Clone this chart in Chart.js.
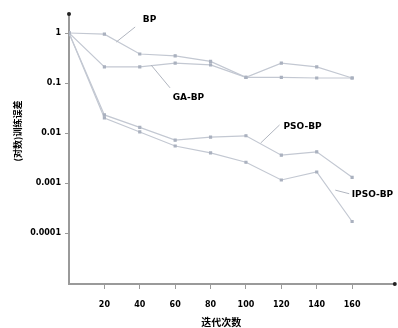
<!DOCTYPE html>
<html>
<head>
<meta charset="utf-8">
<script src="https://cdn.jsdelivr.net/npm/chart.js@4/dist/chart.umd.min.js"></script>
<style>
html,body{margin:0;padding:0;background:#fff;}
canvas{display:block;}
</style>
</head>
<body>
<canvas id="c" width="398" height="328"></canvas>
<script>
// ---- data ----
const iterations = [0, 20, 40, 60, 80, 100, 120, 140, 160];
const bp     = [1, 0.95, 0.38, 0.35, 0.27, 0.13, 0.25, 0.21, 0.126];
const gaBp   = [1, 0.21, 0.21, 0.25, 0.23, 0.13, 0.13, 0.126, 0.126];
const psoBp  = [1, 0.023, 0.013, 0.0072, 0.0083, 0.0088, 0.0036, 0.0042, 0.0013];
const ipsoBp = [1, 0.02, 0.0105, 0.0055, 0.004, 0.0026, 0.00115, 0.00166, 0.00017];
const xTicks = [20, 40, 60, 80, 100, 120, 140, 160];
const yTicks = [0.0001, 0.001, 0.01, 0.1, 1];
const yTickLabels = ['0.0001', '0.001', '0.01', '0.1', '1'];
const seriesNames = ['BP', 'GA-BP', 'PSO-BP', 'IPSO-BP'];
// label anchors in data units: [lineX, lineY, leaderEndX, leaderEndY, textX, textY]
const labelAnchors = [
  [26.7, 0.66, 37.4, 1.32, 45.5, 1.82],
  [46.4, 0.229, 57.1, 0.080, 67.5, 0.050],
  [108.3, 0.0063, 119, 0.0145, 132, 0.0132],
  [150.5, 0.00072, 158.4, 0.00061, 171.5, 0.00058]
];
const xTitle = '迭代次数';
const yTitle = '(对数)训练误差';

const lineColor = '#c3c8d2';
const pointColor = '#aab1bf';
const axisColor = '#9a9a9a';
const fontFam = '"DejaVu Sans", sans-serif';

function mk(name, vals) {
  return {
    label: name,
    data: iterations.map((x, i) => ({x: x, y: vals[i]})),
    borderColor: lineColor,
    backgroundColor: pointColor,
    pointBackgroundColor: pointColor,
    pointBorderColor: pointColor,
    borderWidth: 1.2,
    pointRadius: 1.4,
    pointStyle: 'rect',
    tension: 0
  };
}

const deco = {
  id: 'deco',
  afterDraw(chart) {
    const ctx = chart.ctx;
    const a = chart.chartArea;
    const xs = chart.scales.x, ys = chart.scales.y;
    ctx.save();
    // axis end dots
    ctx.fillStyle = '#222';
    ctx.beginPath(); ctx.arc(a.left, a.top, 2, 0, Math.PI * 2); ctx.fill();
    ctx.beginPath(); ctx.arc(a.right + 2, a.bottom, 2, 0, Math.PI * 2); ctx.fill();
    // series labels with leaders
    ctx.strokeStyle = '#b0b5bf';
    ctx.lineWidth = 1;
    ctx.fillStyle = '#000';
    ctx.font = 'bold 9px ' + fontFam;
    ctx.textBaseline = 'middle';
    labelAnchors.forEach((l, i) => {
      const x1 = xs.getPixelForValue(l[0]), y1 = ys.getPixelForValue(l[1]);
      const x2 = xs.getPixelForValue(l[2]), y2 = ys.getPixelForValue(l[3]);
      ctx.beginPath(); ctx.moveTo(x1, y1); ctx.lineTo(x2, y2); ctx.stroke();
      ctx.textAlign = 'center';
      ctx.fillText(seriesNames[i], xs.getPixelForValue(l[4]), ys.getPixelForValue(l[5]));
    });
    // axis titles
    ctx.font = 'bold 10px "Noto Sans CJK SC", sans-serif';
    ctx.textAlign = 'center';
    ctx.fillText(xTitle, a.left + (a.right - a.left) * 0.47, chart.height - 6);
    ctx.translate(18, (a.top + a.bottom) / 2 - 18);
    ctx.rotate(-Math.PI / 2);
    ctx.font = 'bold 9px "Noto Sans CJK SC", sans-serif';
    ctx.fillText(yTitle, 0, 0);
    ctx.restore();
  }
};

new Chart(document.getElementById('c'), {
  type: 'line',
  data: {
    datasets: [mk(seriesNames[0], bp), mk(seriesNames[1], gaBp), mk(seriesNames[2], psoBp), mk(seriesNames[3], ipsoBp)]
  },
  options: {
    responsive: false,
    devicePixelRatio: 1,
    animation: false,
    layout: {padding: {top: 14, right: 3, left: 0, bottom: 0}},
    plugins: {legend: {display: false}, tooltip: {enabled: false}},
    scales: {
      x: {
        type: 'linear',
        min: 0,
        max: 183,
        afterFit(s) { s.height = 44; },
        afterBuildTicks(s) { s.ticks = xTicks.map(v => ({value: v})); },
        border: {display: true, color: axisColor, width: 2},
        grid: {drawOnChartArea: false, drawTicks: true, tickLength: 5, color: axisColor},
        ticks: {autoSkip: false, maxRotation: 0, padding: 11, color: '#000',
          font: {family: fontFam, size: 8, weight: 'bold'}}
      },
      y: {
        type: 'logarithmic',
        min: 9.55e-6,
        max: 2.4,
        afterFit(s) { s.width = 69; },
        afterBuildTicks(s) { s.ticks = yTicks.map(v => ({value: v})); },
        border: {display: true, color: axisColor, width: 2},
        grid: {drawOnChartArea: false, drawTicks: true, tickLength: 4, color: axisColor},
        ticks: {autoSkip: false, padding: 4, color: '#000',
          font: {family: fontFam, size: 8, weight: 'bold'},
          callback(v) { const i = yTicks.indexOf(v); return i >= 0 ? yTickLabels[i] : ''; }}
      }
    }
  },
  plugins: [deco]
});
</script>
</body>
</html>
